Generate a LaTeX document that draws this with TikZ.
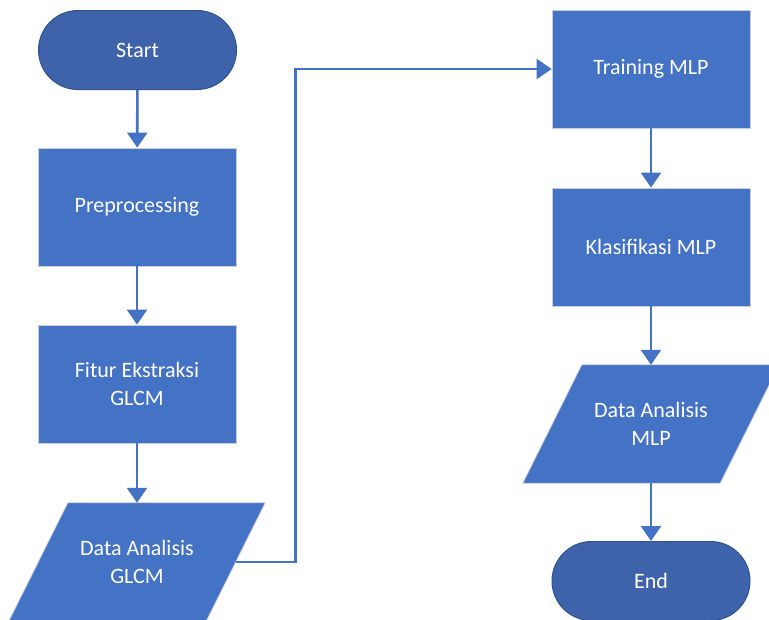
\documentclass[tikz,border=0pt]{standalone}
\usepackage{fontspec}
\setmainfont{Carlito}
\usetikzlibrary{arrows.meta,shapes.misc,backgrounds}
\definecolor{boxblue}{HTML}{4472C4}
\definecolor{termblue}{HTML}{3F63AB}
\definecolor{termedge}{HTML}{2F528F}
\definecolor{edgegrey}{HTML}{C8CED8}
\begin{document}
\begin{tikzpicture}[x=1pt,y=-1pt,
  every node/.style={font=\fontsize{22}{28}\selectfont, text=white, align=center, inner sep=0pt},
  procbox/.style={rectangle, fill=boxblue, draw=edgegrey, line width=0.8pt, minimum width=198pt, minimum height=118pt},
  termbox/.style={rounded rectangle, fill=termblue, draw=termedge, line width=1pt, minimum width=198pt, minimum height=79pt},
  iobox/.style={rectangle, minimum width=197pt, minimum height=118pt},
  iofill/.style={fill=boxblue, draw=edgegrey, line width=0.8pt},
  conn/.style={draw=boxblue, line width=2.6pt, -{Triangle[width=20pt,length=15pt]}}
]
\useasboundingbox (0,0) rectangle (769,619);
\node[termbox] (start) at (137.5,50) {Start};
\node[procbox] (pre) at (137,207) {Preprocessing};
\node[procbox] (fitur) at (137,384) {Fitur Ekstraksi\\GLCM};
\node[iobox] (glcm) at (137,562) {Data Analisis\\GLCM};
\node[procbox] (train) at (651,69) {Training MLP};
\node[procbox] (klas) at (651,247) {Klasifikasi MLP};
\node[iobox] (dmlp) at (651,424) {Data Analisis\\MLP};
\node[termbox] (end) at (651,581) {End};
\begin{scope}[on background layer]
\path[iofill] ([xshift=29.5pt]glcm.north west) -- ([xshift=29.5pt]glcm.north east) -- ([xshift=-29.5pt]glcm.south east) -- ([xshift=-29.5pt]glcm.south west) -- cycle;
\path[iofill] ([xshift=29.5pt]dmlp.north west) -- ([xshift=29.5pt]dmlp.north east) -- ([xshift=-29.5pt]dmlp.south east) -- ([xshift=-29.5pt]dmlp.south west) -- cycle;
\end{scope}
\draw[conn] (start) -- (pre);
\draw[conn] (pre) -- (fitur);
\draw[conn] (fitur) -- (glcm);
\draw[conn] (glcm.east) -- ++(59.5,0) |- (train.west);
\draw[conn] (train) -- (klas);
\draw[conn] (klas) -- (dmlp);
\draw[conn] (dmlp) -- (end);
\end{tikzpicture}
\end{document}
